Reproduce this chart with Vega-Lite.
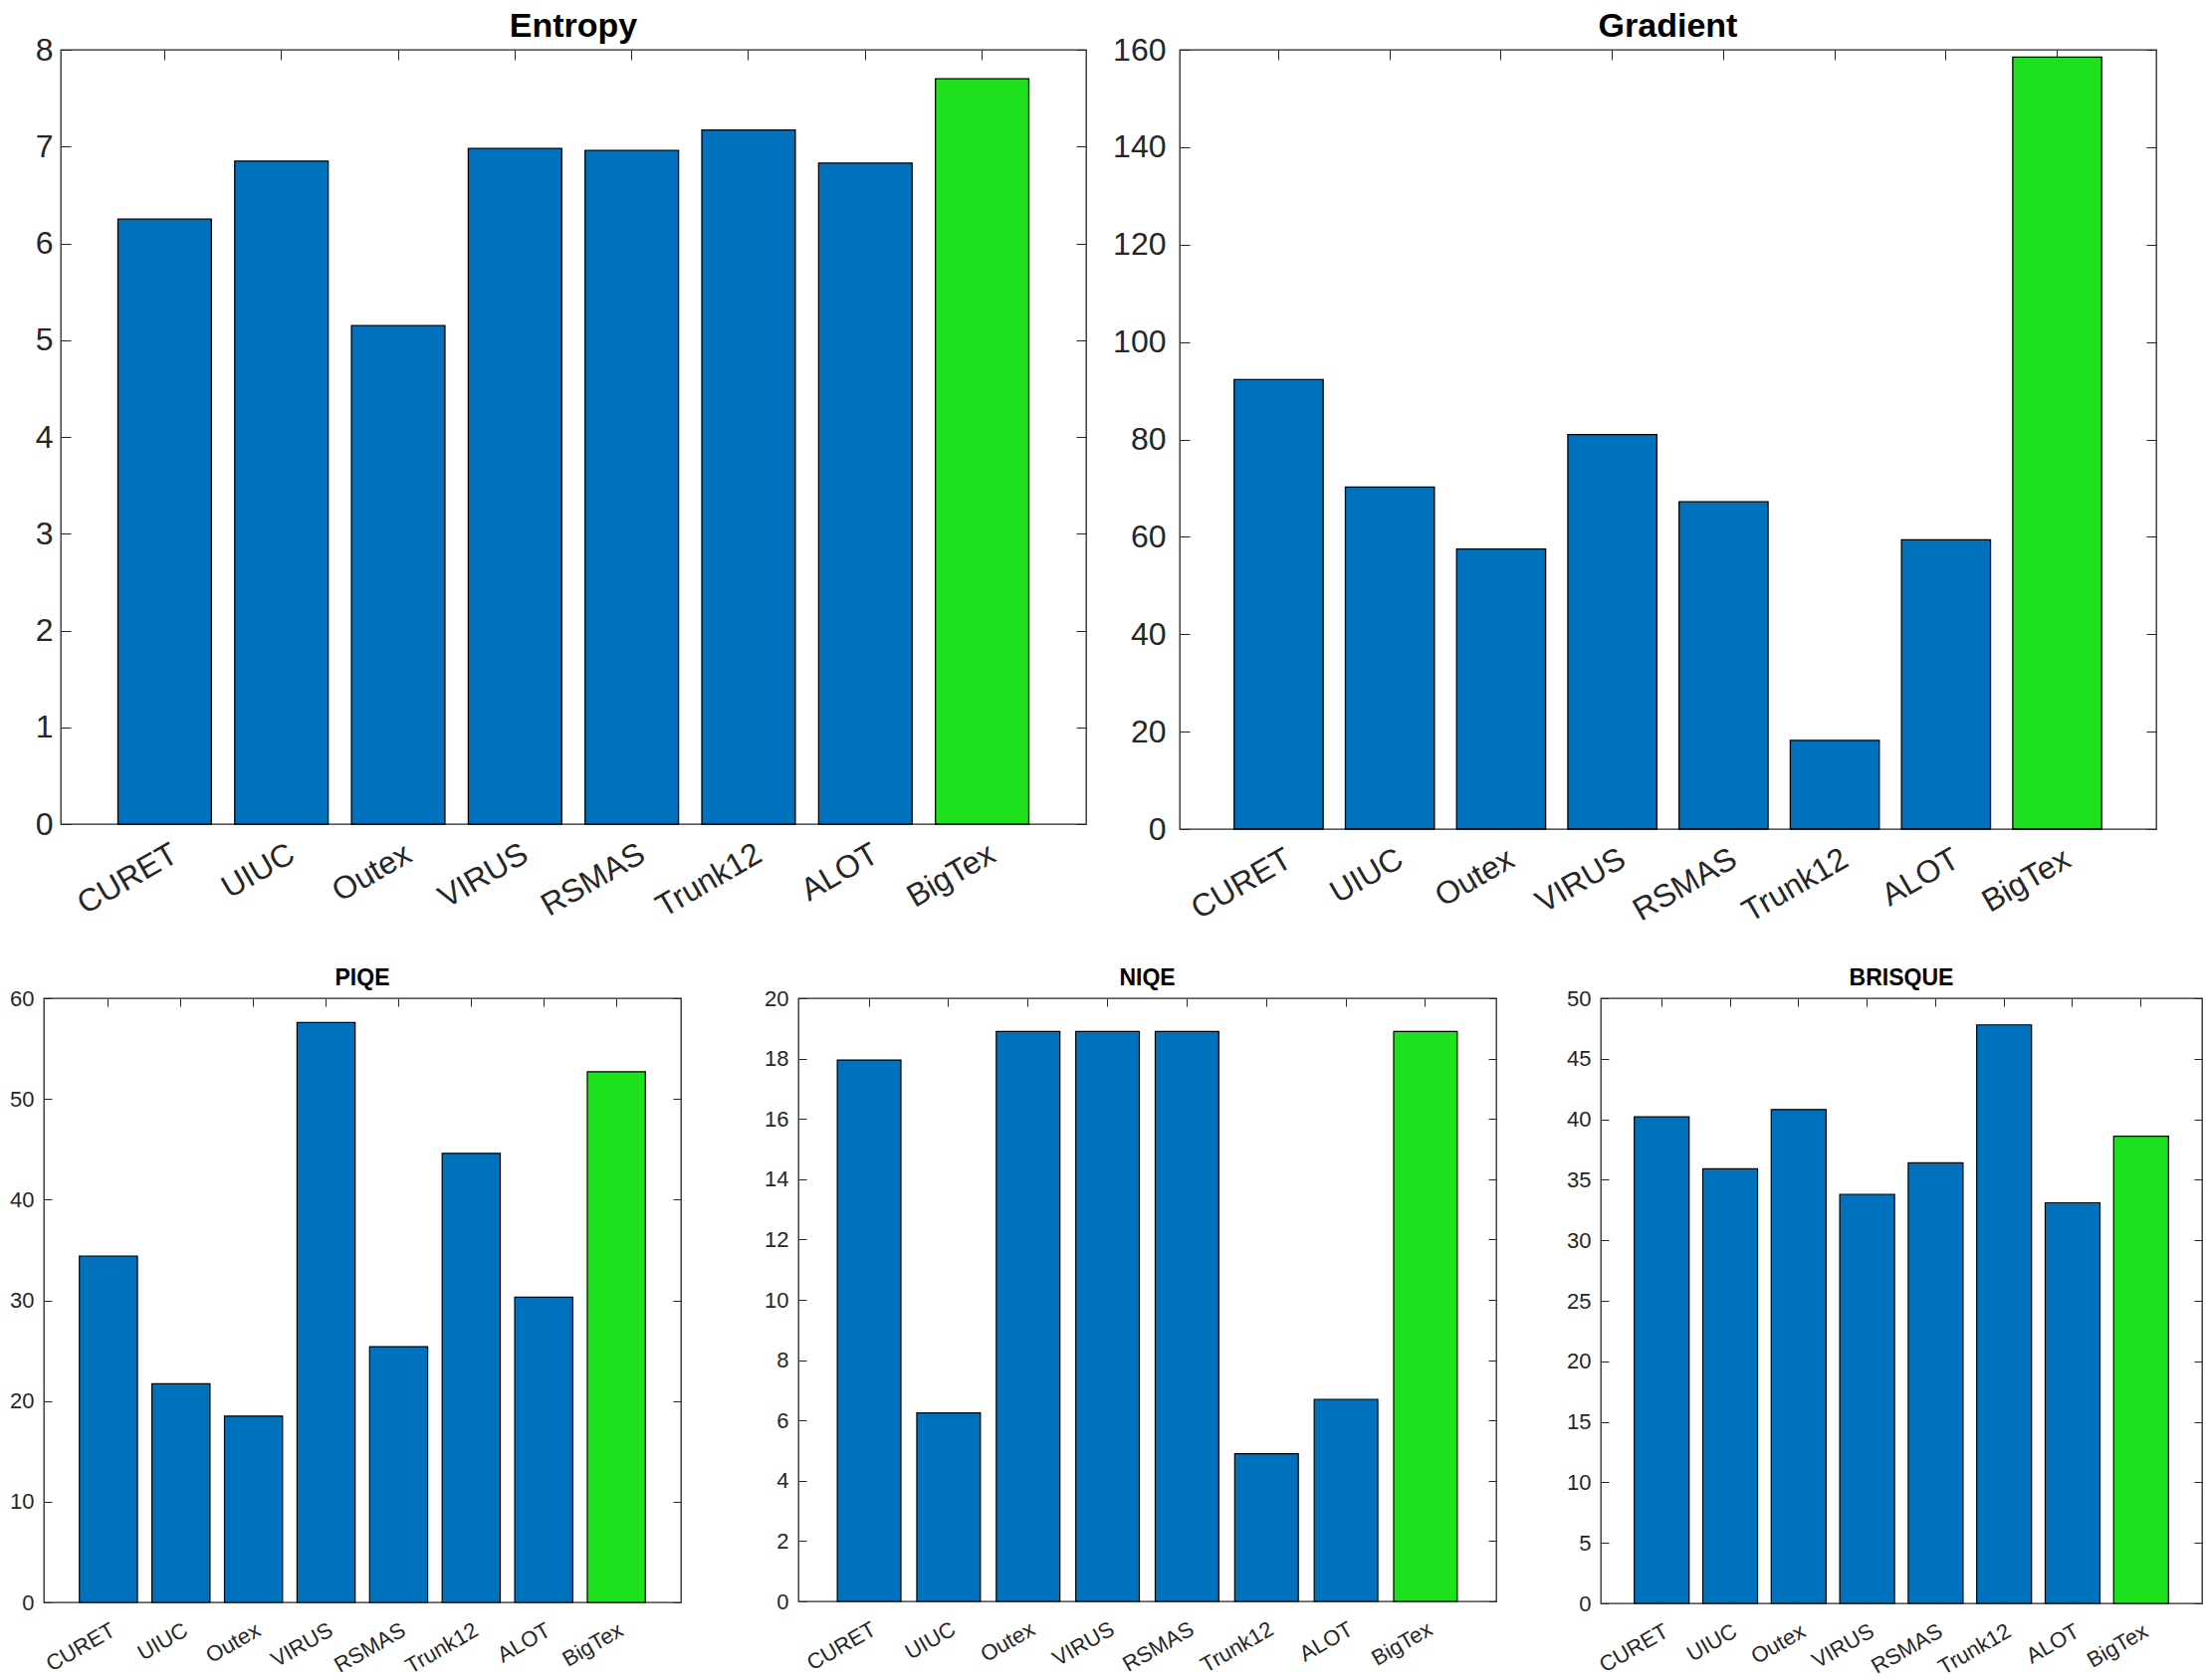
{
  "$schema": "https://vega.github.io/schema/vega-lite/v6.json",
  "padding": {"left": 0, "top": 9, "right": 0, "bottom": 0},
  "background": "white",
  "data": {"values": [
    {"metric": "Entropy", "dataset": "CURET", "value": 6.25},
    {"metric": "Entropy", "dataset": "UIUC", "value": 6.85},
    {"metric": "Entropy", "dataset": "Outex", "value": 5.15},
    {"metric": "Entropy", "dataset": "VIRUS", "value": 6.98},
    {"metric": "Entropy", "dataset": "RSMAS", "value": 6.96},
    {"metric": "Entropy", "dataset": "Trunk12", "value": 7.17},
    {"metric": "Entropy", "dataset": "ALOT", "value": 6.83},
    {"metric": "Entropy", "dataset": "BigTex", "value": 7.7},
    {"metric": "Gradient", "dataset": "CURET", "value": 92.3},
    {"metric": "Gradient", "dataset": "UIUC", "value": 70.2},
    {"metric": "Gradient", "dataset": "Outex", "value": 57.5},
    {"metric": "Gradient", "dataset": "VIRUS", "value": 81.0},
    {"metric": "Gradient", "dataset": "RSMAS", "value": 67.2},
    {"metric": "Gradient", "dataset": "Trunk12", "value": 18.2},
    {"metric": "Gradient", "dataset": "ALOT", "value": 59.4},
    {"metric": "Gradient", "dataset": "BigTex", "value": 158.5},
    {"metric": "PIQE", "dataset": "CURET", "value": 34.4},
    {"metric": "PIQE", "dataset": "UIUC", "value": 21.7},
    {"metric": "PIQE", "dataset": "Outex", "value": 18.5},
    {"metric": "PIQE", "dataset": "VIRUS", "value": 57.6},
    {"metric": "PIQE", "dataset": "RSMAS", "value": 25.4},
    {"metric": "PIQE", "dataset": "Trunk12", "value": 44.6},
    {"metric": "PIQE", "dataset": "ALOT", "value": 30.3},
    {"metric": "PIQE", "dataset": "BigTex", "value": 52.7},
    {"metric": "NIQE", "dataset": "CURET", "value": 17.95},
    {"metric": "NIQE", "dataset": "UIUC", "value": 6.25},
    {"metric": "NIQE", "dataset": "Outex", "value": 18.9},
    {"metric": "NIQE", "dataset": "VIRUS", "value": 18.9},
    {"metric": "NIQE", "dataset": "RSMAS", "value": 18.9},
    {"metric": "NIQE", "dataset": "Trunk12", "value": 4.9},
    {"metric": "NIQE", "dataset": "ALOT", "value": 6.7},
    {"metric": "NIQE", "dataset": "BigTex", "value": 18.9},
    {"metric": "BRISQUE", "dataset": "CURET", "value": 40.2},
    {"metric": "BRISQUE", "dataset": "UIUC", "value": 35.9},
    {"metric": "BRISQUE", "dataset": "Outex", "value": 40.8},
    {"metric": "BRISQUE", "dataset": "VIRUS", "value": 33.8},
    {"metric": "BRISQUE", "dataset": "RSMAS", "value": 36.4},
    {"metric": "BRISQUE", "dataset": "Trunk12", "value": 47.8},
    {"metric": "BRISQUE", "dataset": "ALOT", "value": 33.1},
    {"metric": "BRISQUE", "dataset": "BigTex", "value": 38.6}
  ]},
  "vconcat": [
    {
      "hconcat": [
        {
          "hconcat": [
            {
              "width": 32, "height": 10,
              "view": {"stroke": "transparent"},
              "transform": [{"filter": "datum.metric === 'Entropy' && datum.dataset === 'CURET'"}],
              "mark": {"type": "point", "opacity": 0},
              "encoding": {}
            },
            {
              "title": {"text": "Entropy", "fontSize": 34, "offset": -10},
              "width": 1030, "height": 778,
              "transform": [{"filter": "datum.metric === 'Entropy'"}],
              "layer": [
                {"mark": {"type": "bar", "stroke": "black", "strokeWidth": 1.3},
                 "encoding": {
                   "x": {"field": "dataset", "type": "nominal", "sort": null, "scale": {"paddingInner": 0.2, "paddingOuter": 0.49},
                         "axis": {"title": null, "labelAngle": -30, "labelAlign": "right", "labelBaseline": "top", "labelFontSize": 32, "tickSize": -10, "labelPadding": 24, "labelOffset": 3, "domain": false}},
                   "y": {"field": "value", "type": "quantitative", "scale": {"domain": [0, 8], "nice": false},
                         "axis": {"title": null, "values": [0,1,2,3,4,5,6,7,8], "labelFontSize": 32, "tickSize": -10, "labelPadding": 18, "domain": false}},
                   "color": {"condition": {"test": "datum.dataset === 'BigTex'", "value": "#1EE11E"}, "value": "#0072BD"}
                 }},
                {"mark": {"type": "bar", "opacity": 0},
                 "encoding": {
                   "x": {"field": "dataset", "type": "nominal", "sort": null, "axis": {"orient": "top", "title": null, "labels": false, "tickSize": -10, "domain": false}},
                   "y": {"field": "value", "type": "quantitative", "axis": {"orient": "right", "title": null, "labels": false, "values": [0,1,2,3,4,5,6,7,8], "tickSize": -10, "domain": false}}
                 }}
              ],
              "resolve": {"axis": {"x": "independent", "y": "independent"}}
            }
          ],
          "spacing": 0
        },
        {
          "title": {"text": "Gradient", "fontSize": 34, "offset": -10},
          "width": 981, "height": 783,
          "transform": [{"filter": "datum.metric === 'Gradient'"}],
          "layer": [
            {"mark": {"type": "bar", "stroke": "black", "strokeWidth": 1.3},
             "encoding": {
               "x": {"field": "dataset", "type": "nominal", "sort": null, "scale": {"paddingInner": 0.2, "paddingOuter": 0.49},
                     "axis": {"title": null, "labelAngle": -30, "labelAlign": "right", "labelBaseline": "top", "labelFontSize": 32, "tickSize": -10, "labelPadding": 24, "labelOffset": 3, "domain": false}},
               "y": {"field": "value", "type": "quantitative", "scale": {"domain": [0, 160], "nice": false},
                     "axis": {"title": null, "values": [0,20,40,60,80,100,120,140,160], "labelFontSize": 32, "tickSize": -10, "labelPadding": 24, "domain": false}},
               "color": {"condition": {"test": "datum.dataset === 'BigTex'", "value": "#1EE11E"}, "value": "#0072BD"}
             }},
            {"mark": {"type": "bar", "opacity": 0},
             "encoding": {
               "x": {"field": "dataset", "type": "nominal", "sort": null, "axis": {"orient": "top", "title": null, "labels": false, "tickSize": -10, "domain": false}},
               "y": {"field": "value", "type": "quantitative", "axis": {"orient": "right", "title": null, "labels": false, "values": [0,20,40,60,80,100,120,140,160], "tickSize": -10, "domain": false}}
             }}
          ],
          "resolve": {"axis": {"x": "independent", "y": "independent"}}
        }
      ],
      "spacing": 23
    },
    {
      "hconcat": [
        {
          "hconcat": [
            {
              "width": 6, "height": 10,
              "view": {"stroke": "transparent"},
              "transform": [{"filter": "datum.metric === 'PIQE' && datum.dataset === 'CURET'"}],
              "mark": {"type": "point", "opacity": 0},
              "encoding": {}
            },
            {
              "title": {"text": "PIQE", "fontSize": 23, "offset": -3},
              "width": 640, "height": 607,
              "transform": [{"filter": "datum.metric === 'PIQE'"}],
              "layer": [
                {"mark": {"type": "bar", "stroke": "black", "strokeWidth": 1.2},
                 "encoding": {
                   "x": {"field": "dataset", "type": "nominal", "sort": null, "scale": {"paddingInner": 0.2, "paddingOuter": 0.49},
                         "axis": {"title": null, "labelAngle": -30, "labelAlign": "right", "labelBaseline": "top", "labelFontSize": 22, "tickSize": -8, "labelPadding": 25, "labelOffset": 0, "domain": false}},
                   "y": {"field": "value", "type": "quantitative", "scale": {"domain": [0, 60], "nice": false},
                         "axis": {"title": null, "values": [0,10,20,30,40,50,60], "labelFontSize": 22, "tickSize": -8, "labelPadding": 18, "domain": false}},
                   "color": {"condition": {"test": "datum.dataset === 'BigTex'", "value": "#1EE11E"}, "value": "#0072BD"}
                 }},
                {"mark": {"type": "bar", "opacity": 0},
                 "encoding": {
                   "x": {"field": "dataset", "type": "nominal", "sort": null, "axis": {"orient": "top", "title": null, "labels": false, "tickSize": -8, "domain": false}},
                   "y": {"field": "value", "type": "quantitative", "axis": {"orient": "right", "title": null, "labels": false, "values": [0,10,20,30,40,50,60], "tickSize": -8, "domain": false}}
                 }}
              ],
              "resolve": {"axis": {"x": "independent", "y": "independent"}}
            }
          ],
          "spacing": 0
        },
        {
          "title": {"text": "NIQE", "fontSize": 23, "offset": -3},
          "width": 701, "height": 606,
          "transform": [{"filter": "datum.metric === 'NIQE'"}],
          "layer": [
            {"mark": {"type": "bar", "stroke": "black", "strokeWidth": 1.2},
             "encoding": {
               "x": {"field": "dataset", "type": "nominal", "sort": null, "scale": {"paddingInner": 0.2, "paddingOuter": 0.49},
                     "axis": {"title": null, "labelAngle": -30, "labelAlign": "right", "labelBaseline": "top", "labelFontSize": 22, "tickSize": -8, "labelPadding": 25, "labelOffset": 0, "domain": false}},
               "y": {"field": "value", "type": "quantitative", "scale": {"domain": [0, 20], "nice": false},
                     "axis": {"title": null, "values": [0,2,4,6,8,10,12,14,16,18,20], "labelFontSize": 22, "tickSize": -8, "labelPadding": 18, "domain": false, "minExtent": 48}},
               "color": {"condition": {"test": "datum.dataset === 'BigTex'", "value": "#1EE11E"}, "value": "#0072BD"}
             }},
            {"mark": {"type": "bar", "opacity": 0},
             "encoding": {
               "x": {"field": "dataset", "type": "nominal", "sort": null, "axis": {"orient": "top", "title": null, "labels": false, "tickSize": -8, "domain": false}},
               "y": {"field": "value", "type": "quantitative", "axis": {"orient": "right", "title": null, "labels": false, "values": [0,2,4,6,8,10,12,14,16,18,20], "tickSize": -8, "domain": false}}
             }}
          ],
          "resolve": {"axis": {"x": "independent", "y": "independent"}}
        },
        {
          "title": {"text": "BRISQUE", "fontSize": 23, "offset": -3},
          "width": 604, "height": 608,
          "transform": [{"filter": "datum.metric === 'BRISQUE'"}],
          "layer": [
            {"mark": {"type": "bar", "stroke": "black", "strokeWidth": 1.2},
             "encoding": {
               "x": {"field": "dataset", "type": "nominal", "sort": null, "scale": {"paddingInner": 0.2, "paddingOuter": 0.49},
                     "axis": {"title": null, "labelAngle": -30, "labelAlign": "right", "labelBaseline": "top", "labelFontSize": 22, "tickSize": -8, "labelPadding": 25, "labelOffset": 0, "domain": false}},
               "y": {"field": "value", "type": "quantitative", "scale": {"domain": [0, 50], "nice": false},
                     "axis": {"title": null, "values": [0,5,10,15,20,25,30,35,40,45,50], "labelFontSize": 22, "tickSize": -8, "labelPadding": 18, "domain": false}},
               "color": {"condition": {"test": "datum.dataset === 'BigTex'", "value": "#1EE11E"}, "value": "#0072BD"}
             }},
            {"mark": {"type": "bar", "opacity": 0},
             "encoding": {
               "x": {"field": "dataset", "type": "nominal", "sort": null, "axis": {"orient": "top", "title": null, "labels": false, "tickSize": -8, "domain": false}},
               "y": {"field": "value", "type": "quantitative", "axis": {"orient": "right", "title": null, "labels": false, "values": [0,5,10,15,20,25,30,35,40,45,50], "tickSize": -8, "domain": false}}
             }}
          ],
          "resolve": {"axis": {"x": "independent", "y": "independent"}}
        }
      ],
      "spacing": 67
    }
  ],
  "spacing": 38,
  "config": {
    "font": "Liberation Sans",
    "view": {"stroke": "#262626", "strokeWidth": 1.3},
    "axis": {"labelColor": "#262626", "tickColor": "#262626", "grid": false, "labelFont": "Liberation Sans"},
    "title": {"fontWeight": "bold", "color": "#000000", "font": "Liberation Sans"}
  }
}
